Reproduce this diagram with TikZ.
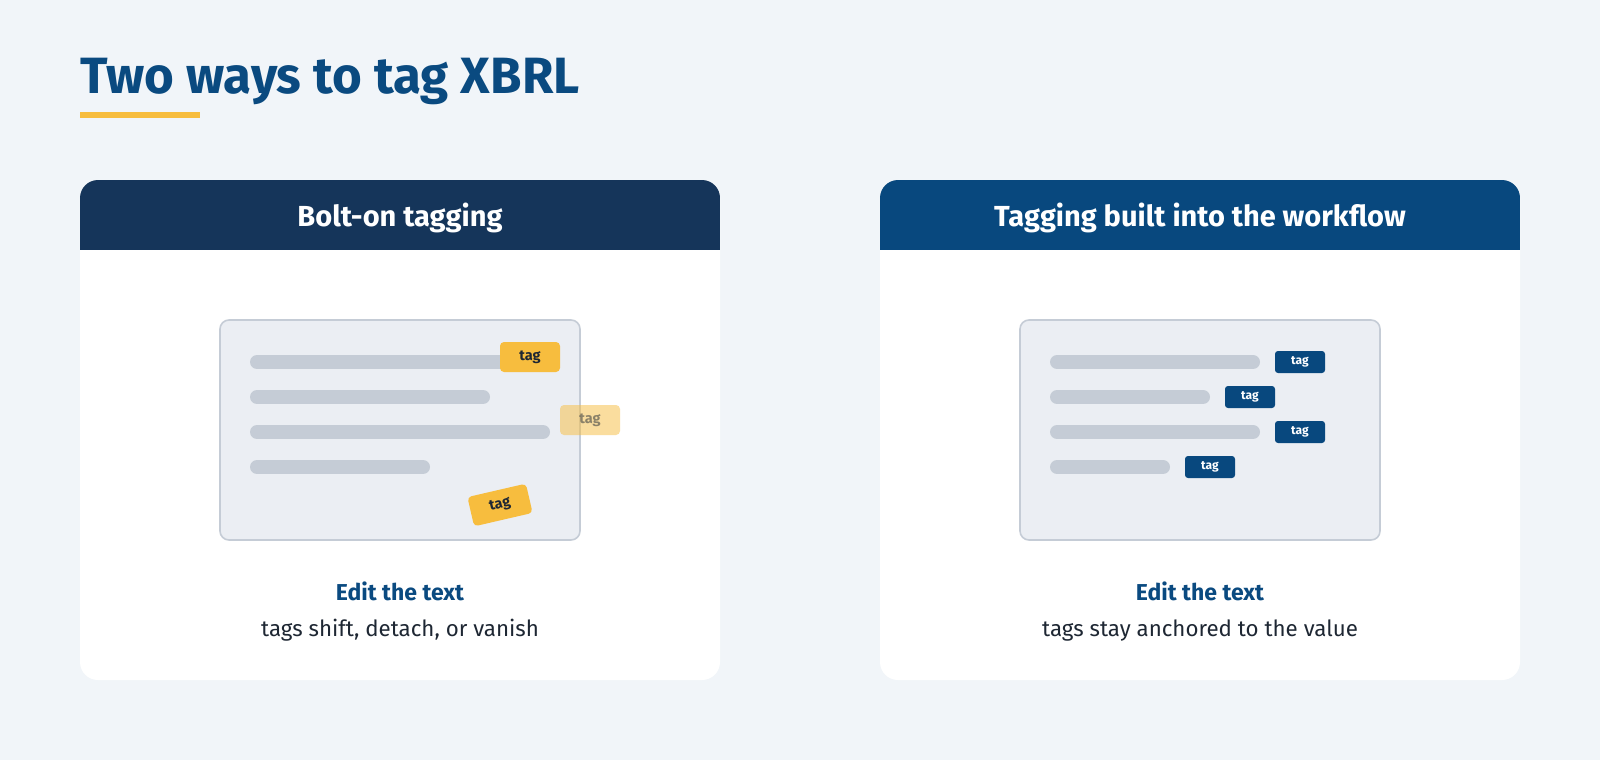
\documentclass[tikz,border=0pt]{standalone}
\usepackage{fontspec}
\setmainfont{Fira Sans}
\definecolor{bg}{HTML}{F1F5F9}
\definecolor{titleblue}{HTML}{0A4A80}
\definecolor{yellowbar}{HTML}{F7BD3E}
\definecolor{navy}{HTML}{15355A}
\definecolor{midblue}{HTML}{08487E}
\definecolor{docfill}{HTML}{EBEEF3}
\definecolor{docline}{HTML}{C5CCD6}
\definecolor{textdark}{HTML}{1E2733}
\tikzset{
  card/.style={fill=white, rounded corners=18pt},
  docbox/.style={fill=docfill, draw=docline, line width=1.6pt, rounded corners=9pt},
  textline/.style={draw=docline, line width=14pt, line cap=round},
  ytag/.style={fill=yellowbar, rounded corners=4pt, minimum width=60pt, minimum height=30pt, inner sep=0pt, text=textdark, font=\fontsize{14.5}{14.5}\selectfont\bfseries},
  btag/.style={fill=midblue, rounded corners=3pt, minimum width=50pt, minimum height=22pt, inner sep=0pt, text=white, font=\fontsize{12}{12}\selectfont\bfseries},
  headtext/.style={text=white, font=\fontsize{29}{29}\selectfont\bfseries},
  captbold/.style={text=titleblue, font=\fontsize{23}{23}\selectfont\bfseries},
  capt/.style={text=textdark, font=\fontsize{22.3}{22.3}\selectfont},
}
\begin{document}
\begin{tikzpicture}[x=1pt,y=-1pt]
\fill[bg] (0,0) rectangle (1600,760);
\useasboundingbox (0,0) rectangle (1600,760);
% title
\node[anchor=base west, inner sep=0pt, text=titleblue, font=\fontsize{51}{51}\selectfont\bfseries] (title) at (80,93) {Two ways to tag XBRL};
\fill[yellowbar] (80,112) rectangle (200,118);
% cards
\foreach \x/\c in {80/navy, 880/midblue}{
  \fill[card] (\x,180) rectangle ++(640,500);
  \begin{scope}
    \clip[rounded corners=18pt] (\x,180) rectangle ++(640,500);
    \fill[\c] (\x,180) rectangle ++(640,70);
  \end{scope}
}
\node[headtext] (h1) at (400,218) {Bolt-on tagging};
\node[headtext] (h2) at (1200,218) {Tagging built into the workflow};
% left document
\draw[docbox] (220,320) rectangle (580,540);
\draw[textline] (257,362) -- (520,362);
\draw[textline] (257,397) -- (483,397);
\draw[textline] (257,432) -- (543,432);
\draw[textline] (257,467) -- (423,467);
\node[ytag] (t1) at (530,357) {tag};
\node[ytag, opacity=0.5] (t2) at (590,420) {tag};
\node[ytag, rotate=13] (t3) at (500,505) {tag};
% right document
\draw[docbox] (1020,320) rectangle (1380,540);
\draw[textline] (1057,362) -- (1253,362);
\draw[textline] (1057,397) -- (1203,397);
\draw[textline] (1057,432) -- (1253,432);
\draw[textline] (1057,467) -- (1163,467);
\node[btag] (r1) at (1300,362) {tag};
\node[btag] (r2) at (1250,397) {tag};
\node[btag] (r3) at (1300,432) {tag};
\node[btag] (r4) at (1210,467) {tag};
% captions
\node[captbold, anchor=base] (c1) at (400,600) {Edit the text};
\node[capt, anchor=base] (d1) at (400,636) {tags shift, detach, or vanish};
\node[captbold, anchor=base] (c2) at (1200,600) {Edit the text};
\node[capt, anchor=base] (d2) at (1200,636) {tags stay anchored to the value};
\end{tikzpicture}
\end{document}
